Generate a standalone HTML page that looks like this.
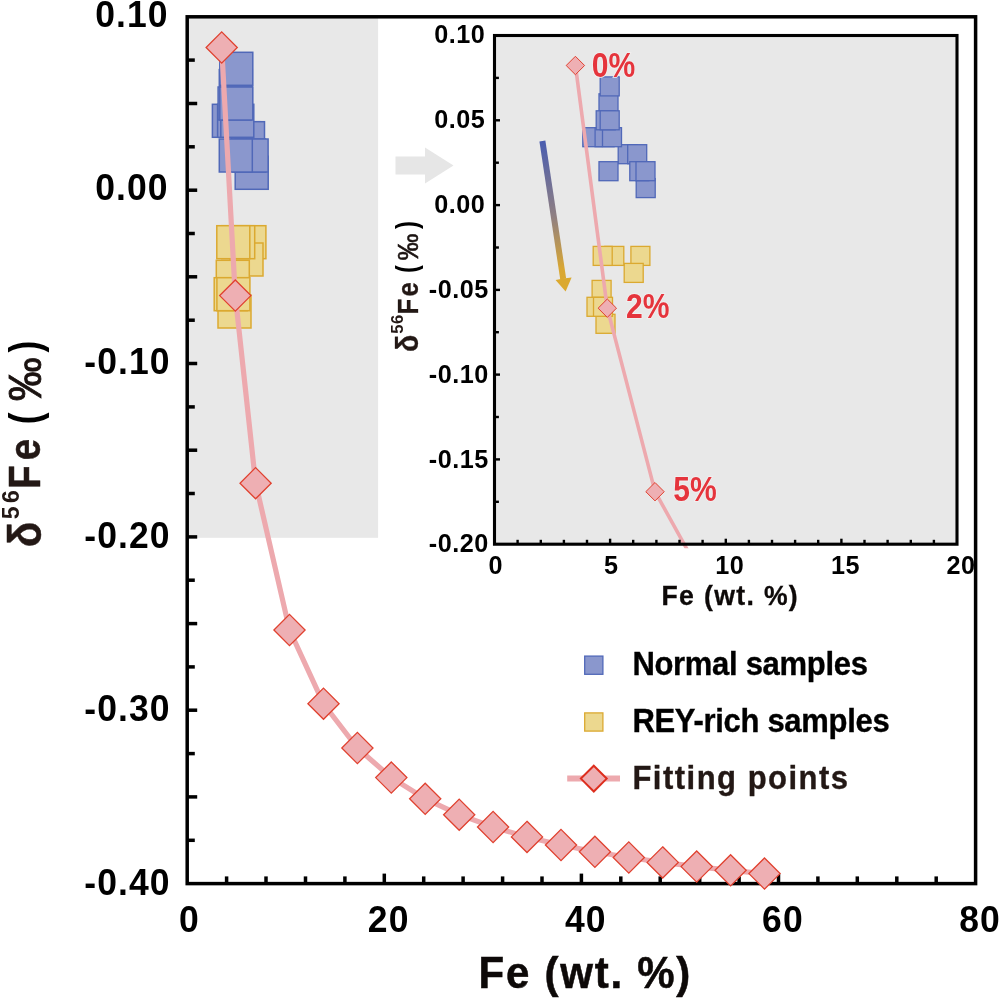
<!DOCTYPE html>
<html lang="en"><head><meta charset="utf-8"><title>Fe isotopes vs Fe content</title>
<style>
html,body{margin:0;padding:0;background:#fff;}
body{width:1000px;height:1000px;overflow:hidden;}
svg{display:block;}
text{font-family:"Liberation Sans",sans-serif;font-weight:bold;}
.tk{font-size:35.5px;letter-spacing:1.1px;fill:#000;}
.itk{font-size:25.2px;letter-spacing:0.5px;fill:#000;}
.red{fill:#e5343c;font-size:35px;stroke:#f3f1f1;stroke-width:1.6px;paint-order:stroke;}
.lg{font-size:31px;letter-spacing:-0.3px;stroke-width:0.35px;}
</style></head><body>
<svg width="1000" height="1000" viewBox="0 0 1000 1000">
<defs>
<linearGradient id="ag" gradientUnits="userSpaceOnUse" x1="542.4" y1="141" x2="565.6" y2="291.4">
<stop offset="0" stop-color="#4a5db0"/><stop offset="0.5" stop-color="#8f7f82"/><stop offset="0.85" stop-color="#d9a733"/><stop offset="1" stop-color="#dba92f"/>
</linearGradient>
</defs>
<rect width="1000" height="1000" fill="#fff"/>

<rect x="187.2" y="16.8" width="190.9" height="521.0" fill="#e8e8e8"/>
<rect x="494.5" y="35.5" width="462.5" height="508.7" fill="#e8e8e8"/>
<g stroke="#000" stroke-width="3.5" fill="none">
<rect x="187.2" y="16.8" width="788.4" height="866.8"/>
<line x1="187.2" y1="60.1" x2="194.8" y2="60.1"/>
<line x1="187.2" y1="103.5" x2="197.2" y2="103.5"/>
<line x1="187.2" y1="146.8" x2="194.8" y2="146.8"/>
<line x1="187.2" y1="190.2" x2="197.2" y2="190.2"/>
<line x1="187.2" y1="233.5" x2="194.8" y2="233.5"/>
<line x1="187.2" y1="276.8" x2="197.2" y2="276.8"/>
<line x1="187.2" y1="320.2" x2="194.8" y2="320.2"/>
<line x1="187.2" y1="363.5" x2="197.2" y2="363.5"/>
<line x1="187.2" y1="406.9" x2="194.8" y2="406.9"/>
<line x1="187.2" y1="450.2" x2="197.2" y2="450.2"/>
<line x1="187.2" y1="493.5" x2="194.8" y2="493.5"/>
<line x1="187.2" y1="536.9" x2="197.2" y2="536.9"/>
<line x1="187.2" y1="580.2" x2="194.8" y2="580.2"/>
<line x1="187.2" y1="623.6" x2="197.2" y2="623.6"/>
<line x1="187.2" y1="666.9" x2="194.8" y2="666.9"/>
<line x1="187.2" y1="710.2" x2="197.2" y2="710.2"/>
<line x1="187.2" y1="753.6" x2="194.8" y2="753.6"/>
<line x1="187.2" y1="796.9" x2="197.2" y2="796.9"/>
<line x1="187.2" y1="840.3" x2="194.8" y2="840.3"/>
<line x1="226.6" y1="883.6" x2="226.6" y2="876.4"/>
<line x1="266.0" y1="883.6" x2="266.0" y2="876.4"/>
<line x1="305.5" y1="883.6" x2="305.5" y2="876.4"/>
<line x1="344.9" y1="883.6" x2="344.9" y2="876.4"/>
<line x1="384.3" y1="883.6" x2="384.3" y2="873.6"/>
<line x1="423.7" y1="883.6" x2="423.7" y2="876.4"/>
<line x1="463.1" y1="883.6" x2="463.1" y2="876.4"/>
<line x1="502.6" y1="883.6" x2="502.6" y2="876.4"/>
<line x1="542.0" y1="883.6" x2="542.0" y2="876.4"/>
<line x1="581.4" y1="883.6" x2="581.4" y2="873.6"/>
<line x1="620.8" y1="883.6" x2="620.8" y2="876.4"/>
<line x1="660.2" y1="883.6" x2="660.2" y2="876.4"/>
<line x1="699.7" y1="883.6" x2="699.7" y2="876.4"/>
<line x1="739.1" y1="883.6" x2="739.1" y2="876.4"/>
<line x1="778.5" y1="883.6" x2="778.5" y2="873.6"/>
<line x1="817.9" y1="883.6" x2="817.9" y2="876.4"/>
<line x1="857.3" y1="883.6" x2="857.3" y2="876.4"/>
<line x1="896.8" y1="883.6" x2="896.8" y2="876.4"/>
<line x1="936.2" y1="883.6" x2="936.2" y2="876.4"/>
</g>
<g>
<rect x="235.2" y="156.3" width="33.0" height="33.0" fill="#8a97cd" stroke="#5068b8" stroke-width="1.5"/>
<rect x="227.5" y="121.7" width="33.0" height="33.0" fill="#8a97cd" stroke="#5068b8" stroke-width="1.5"/>
<rect x="231.5" y="121.7" width="33.0" height="33.0" fill="#8a97cd" stroke="#5068b8" stroke-width="1.5"/>
<rect x="232.4" y="139.0" width="33.0" height="33.0" fill="#8a97cd" stroke="#5068b8" stroke-width="1.5"/>
<rect x="235.1" y="139.0" width="33.0" height="33.0" fill="#8a97cd" stroke="#5068b8" stroke-width="1.5"/>
<rect x="219.3" y="139.0" width="33.0" height="33.0" fill="#8a97cd" stroke="#5068b8" stroke-width="1.5"/>
<rect x="212.4" y="104.3" width="33.0" height="33.0" fill="#8a97cd" stroke="#5068b8" stroke-width="1.5"/>
<rect x="217.6" y="104.3" width="33.0" height="33.0" fill="#8a97cd" stroke="#5068b8" stroke-width="1.5"/>
<rect x="220.8" y="104.3" width="33.0" height="33.0" fill="#8a97cd" stroke="#5068b8" stroke-width="1.5"/>
<rect x="219.3" y="69.6" width="33.0" height="33.0" fill="#8a97cd" stroke="#5068b8" stroke-width="1.5"/>
<rect x="218.1" y="87.0" width="33.0" height="33.0" fill="#8a97cd" stroke="#5068b8" stroke-width="1.5"/>
<rect x="219.8" y="87.0" width="33.0" height="33.0" fill="#8a97cd" stroke="#5068b8" stroke-width="1.5"/>
<rect x="219.8" y="52.3" width="33.0" height="33.0" fill="#8a97cd" stroke="#5068b8" stroke-width="1.5"/>
<rect x="232.9" y="225.7" width="33.0" height="33.0" fill="#ecd88f" stroke="#dba930" stroke-width="1.5"/>
<rect x="230.0" y="243.0" width="33.0" height="33.0" fill="#ecd88f" stroke="#dba930" stroke-width="1.5"/>
<rect x="221.7" y="225.7" width="33.0" height="33.0" fill="#ecd88f" stroke="#dba930" stroke-width="1.5"/>
<rect x="216.8" y="225.7" width="33.0" height="33.0" fill="#ecd88f" stroke="#dba930" stroke-width="1.5"/>
<rect x="216.3" y="260.3" width="33.0" height="33.0" fill="#ecd88f" stroke="#dba930" stroke-width="1.5"/>
<rect x="218.0" y="295.0" width="33.0" height="33.0" fill="#ecd88f" stroke="#dba930" stroke-width="1.5"/>
<rect x="214.2" y="277.7" width="33.0" height="33.0" fill="#ecd88f" stroke="#dba930" stroke-width="1.5"/>
<rect x="216.9" y="277.7" width="33.0" height="33.0" fill="#ecd88f" stroke="#dba930" stroke-width="1.5"/>
</g>
<path d="M221.69 47.48 C221.69 47.48 235.26 295.56 235.26 295.56 C235.26 295.56 255.62 483.16 255.62 483.16 C255.62 483.16 289.54 629.99 289.54 629.99 C289.54 629.99 323.47 703.71 323.47 703.71 C323.47 703.71 357.40 748.04 357.40 748.04 C357.40 748.04 391.32 777.63 391.32 777.63 C391.32 777.63 425.25 798.79 425.25 798.79 C425.25 798.79 459.17 814.67 459.17 814.67 C459.17 814.67 493.10 827.03 493.10 827.03 C493.10 827.03 527.03 836.92 527.03 836.92 C527.03 836.92 560.95 845.02 560.95 845.02 C560.95 845.02 594.88 851.77 594.88 851.77 C594.88 851.77 628.80 857.48 628.80 857.48 C628.80 857.48 662.73 862.37 662.73 862.37 C662.73 862.37 696.65 866.62 696.65 866.62 C696.65 866.62 730.58 870.33 730.58 870.33 C730.58 870.33 764.51 873.61 764.51 873.61" fill="none" stroke="#eda9ae" stroke-width="5.2" stroke-linejoin="round"/>
<path d="M221.7 31.9 L237.3 47.5 L221.7 63.1 L206.1 47.5Z" fill="#eeafb3" stroke="#e0412f" stroke-width="1.3" stroke-linejoin="miter"/>
<path d="M235.3 280.0 L250.9 295.6 L235.3 311.2 L219.7 295.6Z" fill="#eeafb3" stroke="#e0412f" stroke-width="1.3" stroke-linejoin="miter"/>
<path d="M255.6 467.6 L271.2 483.2 L255.6 498.8 L240.0 483.2Z" fill="#eeafb3" stroke="#e0412f" stroke-width="1.3" stroke-linejoin="miter"/>
<path d="M289.5 614.4 L305.1 630.0 L289.5 645.6 L273.9 630.0Z" fill="#eeafb3" stroke="#e0412f" stroke-width="1.3" stroke-linejoin="miter"/>
<path d="M323.5 688.1 L339.1 703.7 L323.5 719.3 L307.9 703.7Z" fill="#eeafb3" stroke="#e0412f" stroke-width="1.3" stroke-linejoin="miter"/>
<path d="M357.4 732.4 L373.0 748.0 L357.4 763.6 L341.8 748.0Z" fill="#eeafb3" stroke="#e0412f" stroke-width="1.3" stroke-linejoin="miter"/>
<path d="M391.3 762.0 L406.9 777.6 L391.3 793.2 L375.7 777.6Z" fill="#eeafb3" stroke="#e0412f" stroke-width="1.3" stroke-linejoin="miter"/>
<path d="M425.2 783.2 L440.8 798.8 L425.2 814.4 L409.6 798.8Z" fill="#eeafb3" stroke="#e0412f" stroke-width="1.3" stroke-linejoin="miter"/>
<path d="M459.2 799.1 L474.8 814.7 L459.2 830.3 L443.6 814.7Z" fill="#eeafb3" stroke="#e0412f" stroke-width="1.3" stroke-linejoin="miter"/>
<path d="M493.1 811.4 L508.7 827.0 L493.1 842.6 L477.5 827.0Z" fill="#eeafb3" stroke="#e0412f" stroke-width="1.3" stroke-linejoin="miter"/>
<path d="M527.0 821.3 L542.6 836.9 L527.0 852.5 L511.4 836.9Z" fill="#eeafb3" stroke="#e0412f" stroke-width="1.3" stroke-linejoin="miter"/>
<path d="M561.0 829.4 L576.6 845.0 L561.0 860.6 L545.4 845.0Z" fill="#eeafb3" stroke="#e0412f" stroke-width="1.3" stroke-linejoin="miter"/>
<path d="M594.9 836.2 L610.5 851.8 L594.9 867.4 L579.3 851.8Z" fill="#eeafb3" stroke="#e0412f" stroke-width="1.3" stroke-linejoin="miter"/>
<path d="M628.8 841.9 L644.4 857.5 L628.8 873.1 L613.2 857.5Z" fill="#eeafb3" stroke="#e0412f" stroke-width="1.3" stroke-linejoin="miter"/>
<path d="M662.7 846.8 L678.3 862.4 L662.7 878.0 L647.1 862.4Z" fill="#eeafb3" stroke="#e0412f" stroke-width="1.3" stroke-linejoin="miter"/>
<path d="M696.7 851.0 L712.3 866.6 L696.7 882.2 L681.1 866.6Z" fill="#eeafb3" stroke="#e0412f" stroke-width="1.3" stroke-linejoin="miter"/>
<path d="M730.6 854.7 L746.2 870.3 L730.6 885.9 L715.0 870.3Z" fill="#eeafb3" stroke="#e0412f" stroke-width="1.3" stroke-linejoin="miter"/>
<path d="M764.5 858.0 L780.1 873.6 L764.5 889.2 L748.9 873.6Z" fill="#eeafb3" stroke="#e0412f" stroke-width="1.3" stroke-linejoin="miter"/>
<clipPath id="ic"><rect x="494.5" y="35.5" width="462.5" height="512.7"/></clipPath>
<rect x="636.2" y="178.6" width="19.0" height="19.0" fill="#8a97cd" stroke="#5068b8" stroke-width="1.3"/>
<rect x="618.2" y="144.7" width="19.0" height="19.0" fill="#8a97cd" stroke="#5068b8" stroke-width="1.3"/>
<rect x="627.7" y="144.7" width="19.0" height="19.0" fill="#8a97cd" stroke="#5068b8" stroke-width="1.3"/>
<rect x="629.8" y="161.7" width="19.0" height="19.0" fill="#8a97cd" stroke="#5068b8" stroke-width="1.3"/>
<rect x="636.0" y="161.7" width="19.0" height="19.0" fill="#8a97cd" stroke="#5068b8" stroke-width="1.3"/>
<rect x="599.0" y="161.7" width="19.0" height="19.0" fill="#8a97cd" stroke="#5068b8" stroke-width="1.3"/>
<rect x="582.8" y="127.7" width="19.0" height="19.0" fill="#8a97cd" stroke="#5068b8" stroke-width="1.3"/>
<rect x="595.1" y="127.7" width="19.0" height="19.0" fill="#8a97cd" stroke="#5068b8" stroke-width="1.3"/>
<rect x="602.5" y="127.7" width="19.0" height="19.0" fill="#8a97cd" stroke="#5068b8" stroke-width="1.3"/>
<rect x="599.0" y="93.8" width="19.0" height="19.0" fill="#8a97cd" stroke="#5068b8" stroke-width="1.3"/>
<rect x="596.2" y="110.8" width="19.0" height="19.0" fill="#8a97cd" stroke="#5068b8" stroke-width="1.3"/>
<rect x="600.2" y="110.8" width="19.0" height="19.0" fill="#8a97cd" stroke="#5068b8" stroke-width="1.3"/>
<rect x="600.2" y="76.9" width="19.0" height="19.0" fill="#8a97cd" stroke="#5068b8" stroke-width="1.3"/>
<rect x="630.9" y="246.4" width="19.0" height="19.0" fill="#ecd88f" stroke="#dba930" stroke-width="1.3"/>
<rect x="624.2" y="263.4" width="19.0" height="19.0" fill="#ecd88f" stroke="#dba930" stroke-width="1.3"/>
<rect x="604.8" y="246.4" width="19.0" height="19.0" fill="#ecd88f" stroke="#dba930" stroke-width="1.3"/>
<rect x="593.2" y="246.4" width="19.0" height="19.0" fill="#ecd88f" stroke="#dba930" stroke-width="1.3"/>
<rect x="592.1" y="280.4" width="19.0" height="19.0" fill="#ecd88f" stroke="#dba930" stroke-width="1.3"/>
<rect x="596.0" y="314.3" width="19.0" height="19.0" fill="#ecd88f" stroke="#dba930" stroke-width="1.3"/>
<rect x="587.0" y="297.3" width="19.0" height="19.0" fill="#ecd88f" stroke="#dba930" stroke-width="1.3"/>
<rect x="593.5" y="297.3" width="19.0" height="19.0" fill="#ecd88f" stroke="#dba930" stroke-width="1.3"/>
<path clip-path="url(#ic)" d="M575.44 65.51 C575.44 65.51 607.28 308.16 607.28 308.16 C607.28 308.16 655.05 491.65 655.05 491.65 C655.05 491.65 734.65 635.27 734.65 635.27 C734.65 635.27 814.26 707.38 814.26 707.38 C814.26 707.38 893.87 750.74 893.87 750.74" fill="none" stroke="#eda9ae" stroke-width="3.6" stroke-linejoin="round"/>
<path d="M575.4 56.3 L584.6 65.5 L575.4 74.7 L566.2 65.5Z" fill="#eeafb3" stroke="#e0412f" stroke-width="1.0" stroke-linejoin="miter"/>
<path d="M607.3 299.0 L616.5 308.2 L607.3 317.4 L598.1 308.2Z" fill="#eeafb3" stroke="#e0412f" stroke-width="1.0" stroke-linejoin="miter"/>
<path d="M655.0 482.5 L664.2 491.7 L655.0 500.9 L645.8 491.7Z" fill="#eeafb3" stroke="#e0412f" stroke-width="1.0" stroke-linejoin="miter"/>
<g stroke="#000" stroke-width="3.1" fill="none">
<rect x="494.5" y="35.5" width="462.5" height="508.7"/>
<line x1="494.5" y1="77.9" x2="498.9" y2="77.9" stroke-width="2.4"/>
<line x1="494.5" y1="120.3" x2="500.0" y2="120.3" stroke-width="2.4"/>
<line x1="494.5" y1="162.7" x2="498.9" y2="162.7" stroke-width="2.4"/>
<line x1="494.5" y1="205.1" x2="500.0" y2="205.1" stroke-width="2.4"/>
<line x1="494.5" y1="247.5" x2="498.9" y2="247.5" stroke-width="2.4"/>
<line x1="494.5" y1="289.9" x2="500.0" y2="289.9" stroke-width="2.4"/>
<line x1="494.5" y1="332.2" x2="498.9" y2="332.2" stroke-width="2.4"/>
<line x1="494.5" y1="374.6" x2="500.0" y2="374.6" stroke-width="2.4"/>
<line x1="494.5" y1="417.0" x2="498.9" y2="417.0" stroke-width="2.4"/>
<line x1="494.5" y1="459.4" x2="500.0" y2="459.4" stroke-width="2.4"/>
<line x1="494.5" y1="501.8" x2="498.9" y2="501.8" stroke-width="2.4"/>
<line x1="517.6" y1="544.2" x2="517.6" y2="539.8" stroke-width="2.4"/>
<line x1="540.8" y1="544.2" x2="540.8" y2="539.8" stroke-width="2.4"/>
<line x1="563.9" y1="544.2" x2="563.9" y2="539.8" stroke-width="2.4"/>
<line x1="587.0" y1="544.2" x2="587.0" y2="539.8" stroke-width="2.4"/>
<line x1="610.1" y1="544.2" x2="610.1" y2="538.7" stroke-width="2.4"/>
<line x1="633.2" y1="544.2" x2="633.2" y2="539.8" stroke-width="2.4"/>
<line x1="656.4" y1="544.2" x2="656.4" y2="539.8" stroke-width="2.4"/>
<line x1="679.5" y1="544.2" x2="679.5" y2="539.8" stroke-width="2.4"/>
<line x1="702.6" y1="544.2" x2="702.6" y2="539.8" stroke-width="2.4"/>
<line x1="725.8" y1="544.2" x2="725.8" y2="538.7" stroke-width="2.4"/>
<line x1="748.9" y1="544.2" x2="748.9" y2="539.8" stroke-width="2.4"/>
<line x1="772.0" y1="544.2" x2="772.0" y2="539.8" stroke-width="2.4"/>
<line x1="795.1" y1="544.2" x2="795.1" y2="539.8" stroke-width="2.4"/>
<line x1="818.2" y1="544.2" x2="818.2" y2="539.8" stroke-width="2.4"/>
<line x1="841.4" y1="544.2" x2="841.4" y2="538.7" stroke-width="2.4"/>
<line x1="864.5" y1="544.2" x2="864.5" y2="539.8" stroke-width="2.4"/>
<line x1="887.6" y1="544.2" x2="887.6" y2="539.8" stroke-width="2.4"/>
<line x1="910.8" y1="544.2" x2="910.8" y2="539.8" stroke-width="2.4"/>
<line x1="933.9" y1="544.2" x2="933.9" y2="539.8" stroke-width="2.4"/>
</g>
<line x1="542.4" y1="141" x2="563.2" y2="279" stroke="url(#ag)" stroke-width="6"/>
<path d="M565.6 291.4 L555.6 280 L563.3 278.6 L571.6 277.4Z" fill="#dba92f"/>
<path d="M395.5 156.5H425V147.5L453.5 165.5L425 183.5V174.5H395.5Z" fill="#e6e6e6"/>
<text class="tk" text-anchor="end" transform="translate(168.7,26.6) scale(1,1.05)">0.10</text>
<text class="tk" text-anchor="end" transform="translate(168.7,200.3) scale(1,1.05)">0.00</text>
<text class="tk" text-anchor="end" transform="translate(170.6,374.0) scale(1,1.05)">-0.10</text>
<text class="tk" text-anchor="end" transform="translate(170.6,547.7) scale(1,1.05)">-0.20</text>
<text class="tk" text-anchor="end" transform="translate(170.6,721.4) scale(1,1.05)">-0.30</text>
<text class="tk" text-anchor="end" transform="translate(170.6,895.1) scale(1,1.05)">-0.40</text>
<text class="tk" text-anchor="middle" transform="translate(189.5,931.6) scale(1,1.04)">0</text>
<text class="tk" text-anchor="middle" transform="translate(388.7,931.6) scale(1,1.04)">20</text>
<text class="tk" text-anchor="middle" transform="translate(585.8,931.6) scale(1,1.04)">40</text>
<text class="tk" text-anchor="middle" transform="translate(782.9,931.6) scale(1,1.04)">60</text>
<text class="tk" text-anchor="middle" transform="translate(980.0,931.6) scale(1,1.04)">80</text>
<text class="itk" text-anchor="end" x="485.2" y="43.1">0.10</text>
<text class="itk" text-anchor="end" x="485.2" y="127.9">0.05</text>
<text class="itk" text-anchor="end" x="485.2" y="212.7">0.00</text>
<text class="itk" text-anchor="end" x="488.7" y="298.1">-0.05</text>
<text class="itk" text-anchor="end" x="488.7" y="382.8">-0.10</text>
<text class="itk" text-anchor="end" x="488.7" y="467.6">-0.15</text>
<text class="itk" text-anchor="end" x="488.7" y="552.4">-0.20</text>
<text class="itk" text-anchor="middle" x="495.7" y="574.0">0</text>
<text class="itk" text-anchor="middle" x="611.3" y="574.0">5</text>
<text class="itk" text-anchor="middle" x="729.8" y="574.0">10</text>
<text class="itk" text-anchor="middle" x="845.4" y="574.0">15</text>
<text class="itk" text-anchor="middle" x="961.0" y="574.0">20</text>
<text transform="translate(478.6,987.6) scale(1,1.05)" font-size="42" letter-spacing="1.75" fill="#0d0908" stroke="#0d0908" stroke-width="0.5">Fe (wt. %)</text>
<text transform="translate(661.5,605) scale(1,1.04)" font-size="26.6" letter-spacing="1.35" fill="#0d0908" stroke="#0d0908" stroke-width="0.3">Fe (wt. %)</text>
<g transform="translate(40.9,542.7) rotate(-90)"><title>δ56Fe (‰)</title>
<text transform="translate(-4.50,0) scale(0.920,1)" font-size="46.0" fill="#231815" stroke="#231815" stroke-width="0.50">δ</text>
<text transform="translate(54.00,-0.50) scale(0.86,1)" font-size="44.5" letter-spacing="5.90" fill="#231815" stroke="#231815" stroke-width="0.50">Fe</text>
<text x="23.50" y="-22.40" font-size="23.0" letter-spacing="3.50" fill="#231815">56</text>
<text transform="translate(118.50,-1.00) scale(0.8,1)" font-size="44.0" fill="#000">(</text>
<text transform="translate(141.50,0.00) scale(1,1.07)" font-size="44.0" fill="#1a1210" stroke="#1a1210" stroke-width="0.80" style="font-weight:normal">‰</text>
<text transform="translate(190.20,-1.00) scale(0.8,1)" font-size="44.0" fill="#000">)</text>
</g>
<g transform="translate(417.8,349.1) rotate(-90)"><title>δ56Fe (‰)</title>
<text transform="translate(-3.00,0) scale(0.920,1)" font-size="30.9" fill="#231815" stroke="#231815" stroke-width="0.30">δ</text>
<text transform="translate(34.70,-0.30) scale(0.86,1)" font-size="29.9" letter-spacing="2.50" fill="#231815" stroke="#231815" stroke-width="0.30">Fe</text>
<text x="15.40" y="-15.00" font-size="16.7" letter-spacing="0.40" fill="#231815">56</text>
<text transform="translate(76.00,-0.70) scale(0.8,1)" font-size="29.6" fill="#000">(</text>
<text transform="translate(88.70,0.00) scale(1,1.07)" font-size="27.0" fill="#1a1210" stroke="#1a1210" stroke-width="0.50" style="font-weight:normal">‰</text>
<text transform="translate(120.20,-0.70) scale(0.8,1)" font-size="29.6" fill="#000">)</text>
</g>
<text class="red" transform="translate(591.8,76.8) scale(0.86,1)">0%</text>
<text class="red" transform="translate(626.0,318.0) scale(0.86,1)">2%</text>
<text class="red" transform="translate(673.2,501.0) scale(0.86,1)">5%</text>
<rect x="584.7" y="656.1" width="18.2" height="18.2" fill="#8a97cd" stroke="#5068b8" stroke-width="1.3"/>
<rect x="584.7" y="712.9" width="18.2" height="18.2" fill="#ecd88f" stroke="#dba930" stroke-width="1.3"/>
<line x1="567.2" y1="778.5" x2="620" y2="778.5" stroke="#eda9ae" stroke-width="6.2"/>
<path d="M593.8 765.7 L606.7 778.6 L593.8 791.5 L580.9 778.6Z" fill="#eeafb3" stroke="#dd2e1e" stroke-width="2.0" stroke-linejoin="miter"/>
<text class="lg" transform="translate(632.4,675) scale(1,1.045)" fill="#000" stroke="#000">Normal samples</text>
<text class="lg" transform="translate(632.4,732.2) scale(1,1.045)" fill="#000" stroke="#000">REY-rich samples</text>
<text class="lg" transform="translate(632.4,788.8) scale(1,1.045)" fill="#231815" stroke="#231815" style="letter-spacing:1.5px">Fitting points</text>
</svg></body></html>
